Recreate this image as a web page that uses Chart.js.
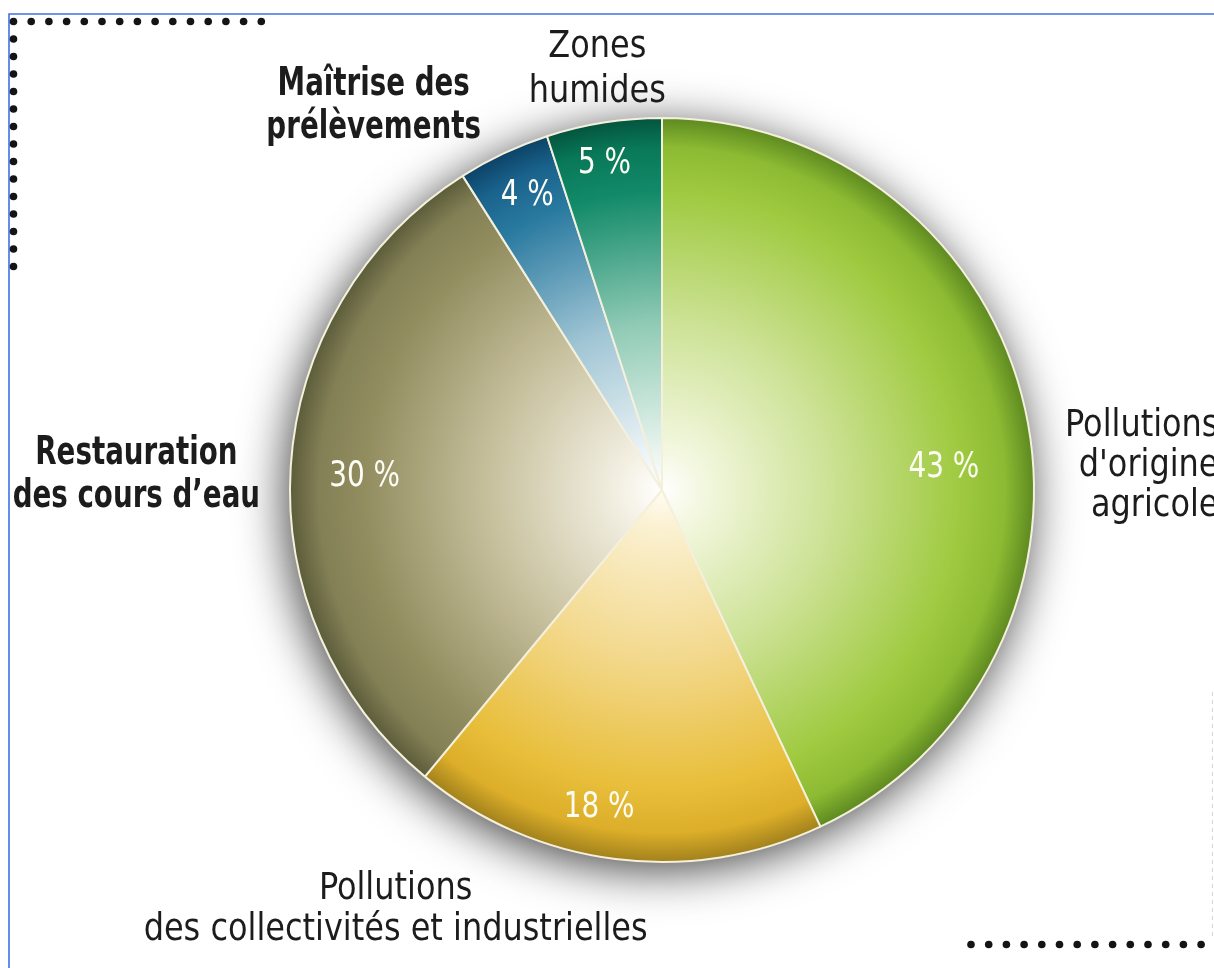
<!DOCTYPE html>
<html>
<head>
<meta charset="utf-8">
<script src="https://cdn.jsdelivr.net/npm/chart.js@4/dist/chart.umd.min.js"></script>
<style>
    html, body { margin: 0; padding: 0; background: #ffffff; }
    #wrap { width: 1214px; height: 968px; position: relative; overflow: hidden; }
</style>
</head>
<body>
<div id="wrap"><canvas id="canvas" width="1214" height="968"></canvas></div>
<script>
// data
const categories = [
    "Pollutions d'origine agricole",
    "Pollutions des collectivités et industrielles",
    "Restauration des cours d’eau",
    "Maîtrise des prélèvements",
    "Zones humides"
];
const shares = [43, 18, 30, 4, 5];
const labelLines = [
    ["Pollutions", "d'origine", "agricole"],
    ["Pollutions", "des collectivités et industrielles"],
    ["Restauration", "des cours d’eau"],
    ["Maîtrise des", "prélèvements"],
    ["Zones", "humides"]
];
const labelBold = [false, false, true, true, false];

// gradient stops per slice (centre -> rim)
const sliceStops = [
    ["#ffffff", "#f4f8e2", "#cde296", "#9fca40", "#8cba32", "#5c8820"],
    ["#fffdf4", "#fbf1d2", "#f3d98e", "#e8be3a", "#dcae29", "#a0801c"],
    ["#ffffff", "#f5f2e6", "#c9c2a0", "#928d5f", "#838056", "#5a5b39"],
    ["#ffffff", "#eef5f7", "#a0c5d4", "#2a7aa0", "#19628c", "#0c4266"],
    ["#ffffff", "#eaf5f0", "#8fcab5", "#128a69", "#087858", "#04533d"]
];
const stopPos = [0, 0.1, 0.45, 0.8, 0.92, 1];

// label layout, in units of the pie radius from its centre
const labelAnchor = [
    {dx: 1.496, dy: -0.145, align: "right"},
    {dx: -0.716, dy: 1.10, align: "center"},
    {dx: -1.413, dy: -0.07, align: "center"},
    {dx: -0.775, dy: -1.062, align: "center"},
    {dx: -0.174, dy: -1.164, align: "center"}
];
const labelLineGap = [40, 41, 43, 43, 45];
const pctRadius = [0.76, 0.87, 0.80, 0.87, 0.89];
const pctNudge = [8, 4, -1, 0.6, -1];

const FONT = '"DejaVu Sans Condensed", "DejaVu Sans", sans-serif';

function sliceGradient(ctx) {
    const chart = ctx.chart;
    const area = chart.chartArea;
    if (!area) return sliceStops[ctx.dataIndex][3];
    const cx = (area.left + area.right) / 2;
    const cy = (area.top + area.bottom) / 2;
    const r = Math.min(area.width, area.height) / 2;
    const g = chart.ctx.createRadialGradient(cx, cy, 0, cx, cy, r);
    const stops = sliceStops[ctx.dataIndex];
    for (let i = 0; i < stops.length; i++) {
        g.addColorStop(stopPos[i], stops[i]);
    }
    return g;
}

function dots(c, x0, y0, dx, dy, n) {
    c.fillStyle = "#141414";
    for (let i = 0; i < n; i++) {
        c.beginPath();
        c.arc(x0 + dx * i, y0 + dy * i, 3.8, 0, Math.PI * 2);
        c.fill();
    }
}

const shadowPlugin = {
    id: "pieShadow",
    beforeDatasetsDraw(chart) {
        const arc = chart.getDatasetMeta(0).data[0];
        if (!arc) return;
        const c = chart.ctx;
        c.save();
        c.shadowColor = "rgba(0,0,0,0.75)";
        c.shadowBlur = 48;
        c.shadowOffsetX = -4;
        c.shadowOffsetY = 8;
        c.fillStyle = "#444444";
        c.beginPath();
        c.arc(arc.x, arc.y, arc.outerRadius, 0, Math.PI * 2);
        c.fill();
        c.restore();
    }
};

const labelPlugin = {
    id: "sliceLabels",
    afterDatasetsDraw(chart) {
        const c = chart.ctx;
        const arcs = chart.getDatasetMeta(0).data;
        const cx = arcs[0].x, cy = arcs[0].y, r = arcs[0].outerRadius;
        c.save();
        // category names
        c.fillStyle = "#1c1c1c";
        c.textBaseline = "alphabetic";
        labelLines.forEach((lines, i) => {
            const a = labelAnchor[i];
            const bold = labelBold[i];
            const size = bold ? 39 : 37;
            const sx = bold ? 0.79 : 0.96;
            c.font = (bold ? "bold " : "") + size + "px " + FONT;
            c.textAlign = a.align;
            lines.forEach((t, k) => {
                const x = cx + a.dx * r;
                const y = cy + a.dy * r + k * labelLineGap[i];
                c.save();
                c.translate(x, y);
                c.scale(sx, 1);
                c.fillText(t, 0, 0);
                c.restore();
            });
        });
        // percentages
        c.fillStyle = "#fdfdf5";
        c.textAlign = "center";
        c.textBaseline = "middle";
        c.font = "36px " + FONT;
        arcs.forEach((arc, i) => {
            const mid = (arc.startAngle + arc.endAngle) / 2 + pctNudge[i] * Math.PI / 180;
            const d = pctRadius[i] * r;
            c.save();
            c.translate(cx + Math.cos(mid) * d, cy + Math.sin(mid) * d);
            c.scale(0.86, 1);
            c.fillText(shares[i] + " %", 0, 0);
            c.restore();
        });
        c.restore();
    },
    afterDraw(chart) {
        const c = chart.ctx;
        c.save();
        // frame
        c.strokeStyle = "#3f72e4";
        c.lineWidth = 1.6;
        c.beginPath();
        c.moveTo(9, 968);
        c.lineTo(9, 14);
        c.lineTo(1214, 14);
        c.stroke();
        // dotted corners
        dots(c, 13.5, 21.5, 17.7, 0, 15);
        dots(c, 13.5, 39, 0, 17.5, 14);
        dots(c, 971, 944.5, 17.7, 0, 14);
        c.strokeStyle = "#d6d6d6";
        c.lineWidth = 1;
        c.setLineDash([4, 4]);
        c.beginPath();
        c.moveTo(1212.5, 692);
        c.lineTo(1212.5, 940);
        c.stroke();
        c.restore();
    }
};

new Chart(document.getElementById("canvas"), {
    type: "pie",
    data: {
        labels: categories,
        datasets: [{
            data: shares,
            backgroundColor: sliceGradient,
            borderColor: "#f4f0dc",
            borderWidth: 2
        }]
    },
    options: {
        responsive: false,
        devicePixelRatio: 1,
        animation: false,
        layout: {padding: {left: 289, right: 179, top: 117, bottom: 105}},
        plugins: {
            legend: {display: false},
            tooltip: {enabled: false}
        }
    },
    plugins: [shadowPlugin, labelPlugin]
});
</script>
</body>
</html>
